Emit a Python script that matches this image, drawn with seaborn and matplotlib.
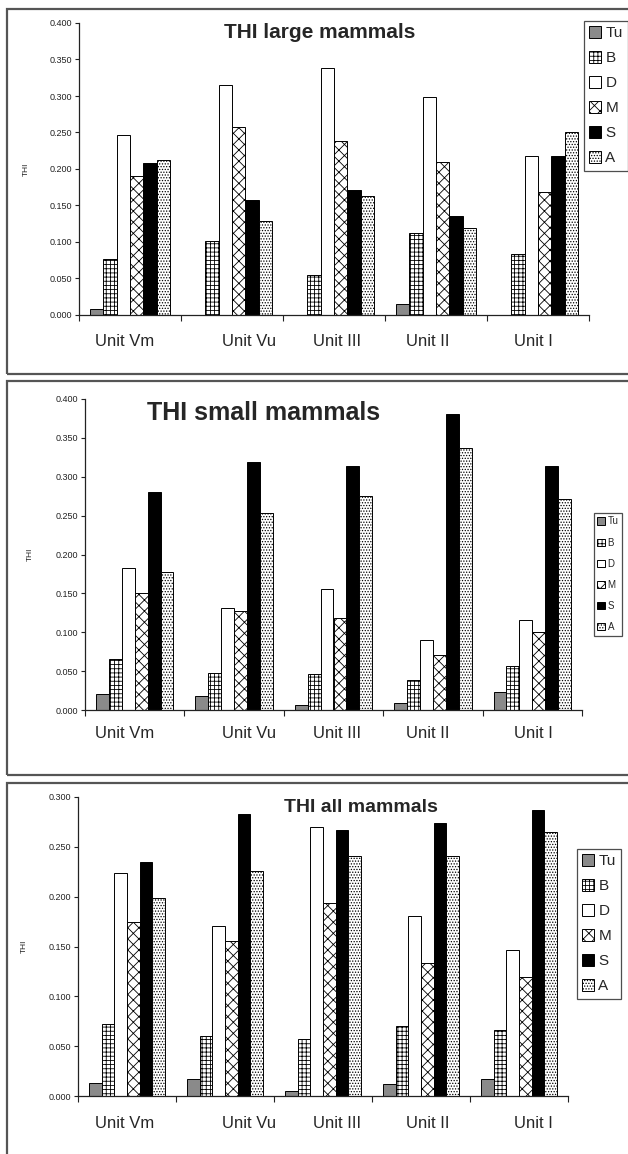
import numpy as np
import pandas as pd
import matplotlib
matplotlib.use("Agg")
import matplotlib.pyplot as plt
import seaborn as sns
from matplotlib.patches import Rectangle, Patch

# ---------------- data ----------------
units = ["Unit Vm", "Unit Vu", "Unit III", "Unit II", "Unit I"]
classes = ["Tu", "B", "D", "M", "S", "A"]

large_Tu = [0.008, 0.0, 0.0, 0.015, 0.0]
large_B = [0.077, 0.102, 0.055, 0.112, 0.083]
large_D = [0.247, 0.315, 0.338, 0.299, 0.218]
large_M = [0.191, 0.258, 0.238, 0.210, 0.168]
large_S = [0.208, 0.157, 0.171, 0.136, 0.218]
large_A = [0.212, 0.129, 0.163, 0.119, 0.250]

small_Tu = [0.021, 0.018, 0.007, 0.009, 0.023]
small_B = [0.066, 0.048, 0.046, 0.039, 0.056]
small_D = [0.182, 0.131, 0.155, 0.090, 0.116]
small_M = [0.151, 0.127, 0.118, 0.071, 0.100]
small_S = [0.280, 0.319, 0.314, 0.381, 0.314]
small_A = [0.177, 0.254, 0.275, 0.337, 0.272]

all_Tu = [0.013, 0.017, 0.005, 0.012, 0.017]
all_B = [0.072, 0.060, 0.057, 0.070, 0.066]
all_D = [0.224, 0.171, 0.270, 0.181, 0.146]
all_M = [0.175, 0.156, 0.194, 0.133, 0.119]
all_S = [0.235, 0.283, 0.267, 0.274, 0.287]
all_A = [0.199, 0.226, 0.241, 0.241, 0.265]

titles = ["THI large mammals", "THI small mammals", "THI all mammals"]
y_ticks_large = [0.0, 0.05, 0.10, 0.15, 0.20, 0.25, 0.30, 0.35, 0.40]
y_ticks_small = [0.0, 0.05, 0.10, 0.15, 0.20, 0.25, 0.30, 0.35, 0.40]
y_ticks_all = [0.0, 0.05, 0.10, 0.15, 0.20, 0.25, 0.30]


def long_frame(series):
    rows = []
    for cls, vals in zip(classes, series):
        for u, v in zip(units, vals):
            rows.append({"unit": u, "cls": cls, "THI": v})
    return pd.DataFrame(rows)


df_large = long_frame([large_Tu, large_B, large_D, large_M, large_S, large_A])
df_small = long_frame([small_Tu, small_B, small_D, small_M, small_S, small_A])
df_all = long_frame([all_Tu, all_B, all_D, all_M, all_S, all_A])

# ---------------- style ----------------
sns.set_style("white")
plt.rcParams["font.family"] = ["Liberation Sans", "DejaVu Sans"]
plt.rcParams["hatch.linewidth"] = 0.6

styles = {
    "Tu": dict(facecolor="#8a8a8a", hatch=None),
    "B": dict(facecolor="white", hatch="++++"),
    "D": dict(facecolor="white", hatch=None),
    "M": dict(facecolor="white", hatch="xxx"),
    "S": dict(facecolor="black", hatch=None),
    "A": dict(facecolor="white", hatch="......"),
}

W, H = 628, 1154
fig = plt.figure(figsize=(W / 100, H / 100), dpi=100)
fig.patch.set_facecolor("white")

# panel frames (px: top, bottom)
for top, bot in [(9, 374), (381, 775), (783, 1170)]:
    fig.add_artist(Rectangle((7 / W, 1 - bot / H), 700 / W, (bot - top) / H,
                             transform=fig.transFigure, fill=False,
                             edgecolor="#555555", linewidth=1.6))

# panel layout in pixels
panels = [
    dict(df=df_large, left=79, right=589, top=23, bot=315, ymax=0.4, yt=y_ticks_large,
         title=titles[0], tx=320, ty=33, tfs=15, leg=(584, 21), lfs=11, lsp=0.72,
         ylab_x=30, lab_y=19),
    dict(df=df_small, left=85, right=582, top=399, bot=710, ymax=0.4, yt=y_ticks_small,
         title=titles[1], tx=264, ty=413, tfs=18, leg=(594, 513), lfs=7, lsp=1.15,
         ylab_x=34, lab_y=16),
    dict(df=df_all, left=78, right=568, top=797, bot=1096, ymax=0.3, yt=y_ticks_all,
         title=titles[2], tx=361, ty=807, tfs=14, leg=(577, 849), lfs=11, lsp=0.72,
         ylab_x=28, lab_y=20),
]
label_px = [125, 249, 337, 428, 533]

for p in panels:
    ax = fig.add_axes([p["left"] / W, 1 - p["bot"] / H,
                       (p["right"] - p["left"]) / W, (p["bot"] - p["top"]) / H])
    sns.barplot(data=p["df"], x="unit", y="THI", hue="cls", order=units,
                hue_order=classes, width=0.78, errorbar=None, ax=ax,
                legend=False)
    for cls, cont in zip(classes, ax.containers):
        for bar in cont:
            bar.set_facecolor(styles[cls]["facecolor"])
            bar.set_edgecolor("black")
            bar.set_linewidth(0.7)
            if styles[cls]["hatch"]:
                bar.set_hatch(styles[cls]["hatch"])
    ax.set_xlim(-0.5, 4.5)
    ax.set_ylim(0, p["ymax"])
    ax.set_yticks(p["yt"])
    ax.set_yticklabels([f"{v:.3f}" for v in p["yt"]], fontsize=6.5)
    for s in ["top", "right"]:
        ax.spines[s].set_visible(False)
    for s in ["left", "bottom"]:
        ax.spines[s].set_color("#222222")
        ax.spines[s].set_linewidth(0.9)
    ax.tick_params(axis="y", direction="out", length=3, width=0.8, pad=2,
                   left=True, colors="#222222")
    # category labels positions (px -> data)
    span = p["right"] - p["left"]
    xt = [-0.5 + (lp - p["left"]) / span * 5 for lp in label_px]
    ax.set_xticks(xt)
    ax.set_xticklabels(units, fontsize=12)
    ax.tick_params(axis="x", which="major", length=0, pad=p["lab_y"] / 1.389)
    ax.set_xticks(np.arange(-0.5, 5.0, 1.0), minor=True)
    ax.tick_params(axis="x", which="minor", direction="out", length=4,
                   width=0.8, bottom=True, colors="#222222")
    ax.set_xlabel("")
    ax.set_ylabel("THI", fontsize=6)
    ax.yaxis.set_label_coords((p["ylab_x"] - p["left"]) / span, 0.5)
    ax.grid(False)
    ax.patch.set_alpha(0)

    fig.text(p["tx"] / W, 1 - p["ty"] / H, p["title"], fontsize=p["tfs"],
             fontweight="bold", ha="center", va="center")

    handles = [Patch(facecolor=styles[c]["facecolor"], edgecolor="black",
                     hatch=styles[c]["hatch"], linewidth=0.7, label=c)
               for c in classes]
    leg = fig.legend(handles=handles, loc="upper left",
                     bbox_to_anchor=(p["leg"][0] / W, 1 - p["leg"][1] / H),
                     bbox_transform=fig.transFigure, fontsize=p["lfs"],
                     frameon=True, fancybox=False, borderpad=0.35,
                     handlelength=0.75, handleheight=0.75, handletextpad=0.3,
                     labelspacing=p["lsp"], borderaxespad=0)
    leg.get_frame().set_edgecolor("#222222")
    leg.get_frame().set_linewidth(0.9)

fig.savefig("out.png", dpi=100, facecolor="white")
